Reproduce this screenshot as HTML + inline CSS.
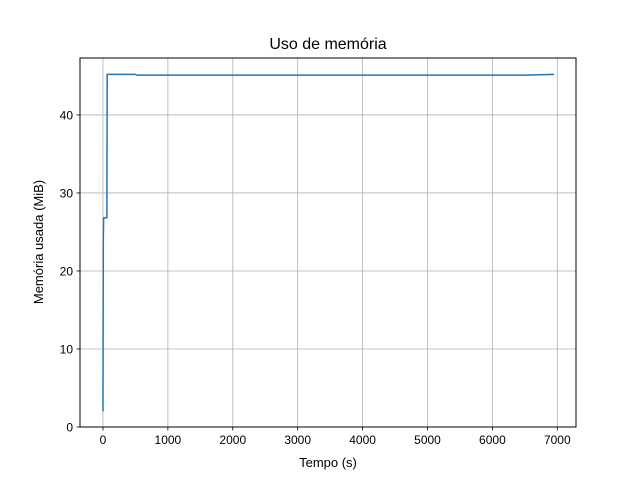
<!DOCTYPE html>
<html><head><meta charset="utf-8"><style>
body{margin:0;background:#fff;}
svg text{font-family:"Liberation Sans","DejaVu Sans",sans-serif;}
</style></head><body>
<svg id="chart" width="640" height="480" xmlns="http://www.w3.org/2000/svg">
<rect width="640" height="480" fill="#fff"/>
<text x="328" y="49" font-size="16" text-anchor="middle">Uso de memória</text>
<g id="grid"></g>
<g id="xticks"></g>
<g id="yticks"></g>
<polyline id="line" fill="none" stroke="#1f77b4" stroke-width="1.5"/>
<rect x="80" y="58" width="496" height="369" fill="none" stroke="#000" stroke-width="1"/>
<text x="328" y="467" font-size="13" text-anchor="middle">Tempo (s)</text>
<text x="0" y="0" font-size="13" text-anchor="middle" transform="translate(43,242) rotate(-90)">Memória usada (MiB)</text>
</svg>
<script>
const times=[0,5,10,60,65,500,520,3000,6500,6950];
const memory=[2,24,26.8,26.8,45.2,45.2,45.1,45.1,45.1,45.2];
const xTickValues=[0,1000,2000,3000,4000,5000,6000,7000];
const yTickValues=[0,10,20,30,40];
const NS="http://www.w3.org/2000/svg";
const L=80,R=576,T=58,B=427,XMIN=-354,XMAX=7288,YMIN=0,YMAX=47.3;
function xs(v){return L+(v-XMIN)/(XMAX-XMIN)*(R-L);}
function ys(v){return B-(v-YMIN)/(YMAX-YMIN)*(B-T);}
const grid=document.getElementById('grid'),xt=document.getElementById('xticks'),yt=document.getElementById('yticks');
function mk(tag,attrs,parent){const e=document.createElementNS(NS,tag);for(const k in attrs)e.setAttribute(k,attrs[k]);parent.appendChild(e);return e;}
xTickValues.forEach(v=>{const x=xs(v);
 const g=mk('line',{x1:x,x2:x,y1:T,y2:B,stroke:'#b0b0b0','stroke-width':0.8},grid);
 
 
 const t=mk('line',{x1:x,x2:x,y1:B,y2:B+3.5,stroke:'#000','stroke-width':0.8},xt);
 
 
 const l=mk('text',{x:x,y:B+17,'font-size':12,'text-anchor':'middle'},xt);l.textContent=v;
 
 
});
yTickValues.forEach(v=>{const y=ys(v);
 const g=mk('line',{x1:L,x2:R,y1:y,y2:y,stroke:'#b0b0b0','stroke-width':0.8},grid);
 
 
 const t=mk('line',{x1:L-3.5,x2:L,y1:y,y2:y,stroke:'#000','stroke-width':0.8},yt);
 
 
 const l=mk('text',{x:L-7,y:y+4.5,'font-size':12,'text-anchor':'end'},yt);l.textContent=v;
 
 
});
document.getElementById('line').setAttribute('points',times.map((t,i)=>xs(t)+','+ys(memory[i])).join(' '));
</script>
</body></html>
